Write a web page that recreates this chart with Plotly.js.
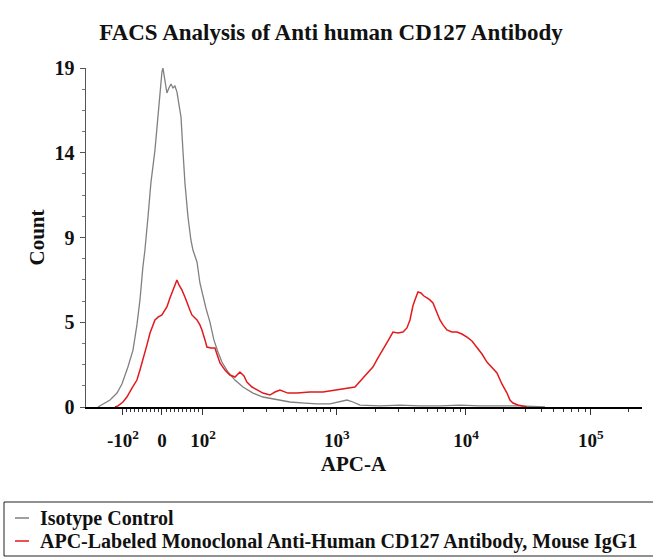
<!DOCTYPE html>
<html>
<head>
<meta charset="utf-8">
<script src="https://cdn.plot.ly/plotly-3.0.1.min.js"></script>
<style>html,body{margin:0;padding:0;background:#fff;}#chart{width:653px;height:558px;}</style>
</head>
<body>
<div id="chart"></div>
<script>
// x values are in biexponential display units of APC-A (0 = zero, ~1 unit per decade above 10^3)
const isoX = [-0.504,-0.465,-0.409,-0.354,-0.315,-0.268,-0.228,-0.197,-0.173,-0.150,-0.134,-0.110,-0.087,-0.055,-0.031,-0.016,-0.008,0,0.008,0.016,0.024,0.039,0.055,0.071,0.087,0.102,0.118,0.134,0.150,0.165,0.181,0.205,0.228,0.244,0.276,0.299,0.323,0.346,0.378,0.409,0.441,0.472,0.520,0.575,0.638,0.717,0.795,0.890,1.008,1.126,1.220,1.323,1.402,1.457,1.504,1.559,1.717,1.874,2.031,2.189,2.346,2.504,2.661,2.819,3.016];
const isoY = [0,0.17,0.39,0.78,1.29,2.24,3.19,4.60,6.00,7.85,8.80,10.65,12.56,14.40,16.25,17.49,18.33,18.78,19.0,18.61,18.05,17.60,17.88,18.10,17.88,17.99,17.66,16.93,16.25,14.40,12.56,10.65,9.36,8.80,8.13,6.95,6.17,5.55,4.76,3.76,3.08,2.52,1.96,1.51,1.12,0.78,0.56,0.45,0.28,0.22,0.17,0.17,0.28,0.39,0.28,0.11,0.06,0.11,0.06,0.06,0.11,0.06,0.06,0.06,0];
const cd127X = [-0.370,-0.346,-0.307,-0.276,-0.236,-0.197,-0.173,-0.150,-0.118,-0.094,-0.071,-0.055,-0.031,0,0.024,0.039,0.063,0.079,0.102,0.118,0.134,0.157,0.181,0.197,0.220,0.236,0.260,0.276,0.299,0.315,0.339,0.354,0.386,0.417,0.441,0.457,0.496,0.535,0.575,0.614,0.646,0.669,0.709,0.748,0.795,0.850,0.890,0.929,0.992,1.063,1.165,1.268,1.362,1.457,1.520,1.583,1.622,1.661,1.701,1.740,1.780,1.819,1.858,1.898,1.929,1.953,1.976,1.992,2.016,2.039,2.063,2.087,2.110,2.134,2.165,2.189,2.213,2.244,2.283,2.323,2.362,2.402,2.441,2.480,2.520,2.559,2.598,2.638,2.677,2.717,2.740,2.764,2.803,2.835,2.874];
const cd127Y = [0,0.06,0.28,0.56,1.06,1.51,2.07,2.63,3.48,4.15,4.60,4.88,5.04,5.16,5.44,5.61,6.11,6.39,6.78,7.12,6.84,6.56,6.17,5.83,5.44,5.16,4.99,4.88,4.60,4.32,3.76,3.36,3.31,3.31,2.80,2.47,2.07,1.79,1.68,1.96,1.74,1.40,1.12,0.95,0.78,0.67,0.84,0.95,0.78,0.78,0.84,0.84,0.95,1.06,1.12,1.63,1.91,2.24,2.75,3.19,3.70,4.20,4.15,4.20,4.43,4.88,5.66,6.00,6.45,6.39,6.22,6.11,6.00,5.83,5.27,4.88,4.60,4.32,4.20,4.20,4.09,3.92,3.70,3.36,2.97,2.52,2.24,1.91,1.29,0.78,0.39,0.22,0.11,0.06,0];

const xTickPos = [-0.307, 0, 0.323, 1.378, 2.394, 3.378];
const xTickText = ['-10<sup>2</sup>', '0', '10<sup>2</sup>', '10<sup>3</sup>', '10<sup>4</sup>', '10<sup>5</sup>'];
const yTickPos = [0, 4.75, 9.5, 14.25, 19];
const yTickText = ['0', '5', '9', '14', '19'];
const seriesNames = ['Isotype Control', 'APC-Labeled Monoclonal Anti-Human CD127 Antibody, Mouse IgG1'];
const seriesColors = ['#808080', '#e3191c'];

// minor tick positions derived from the major tick positions
const minorX = [];
for (let k = -9; k <= 9; k++) { if (k !== 0) minorX.push(k > 0 ? k / 10 * xTickPos[2] : -k / 10 * xTickPos[0]); }
for (let d = 2; d < 5; d++) {
  const a = xTickPos[d], b = xTickPos[d + 1];
  for (let m = 2; m <= 9; m++) minorX.push(a + Math.log10(m) * (b - a));
}
for (let m = 2; m <= 3; m++) minorX.push(xTickPos[5] + Math.log10(m) * (xTickPos[5] - xTickPos[4]));
const minorY = [];
for (let i = 0; i < yTickPos.length - 1; i++) {
  for (let j = 1; j < 4; j++) minorY.push(yTickPos[i] + j * (yTickPos[i + 1] - yTickPos[i]) / 4);
}

const W = 653, H = 558, M = {l: 86, r: 11, t: 68, b: 151};
const plotW = W - M.l - M.r, plotH = H - M.t - M.b;
const px2paperX = p => (p - M.l) / plotW;
const py2paperY = p => (H - M.b - p) / plotH;

const serif = 'Liberation Serif, Times New Roman, serif';
const traces = seriesNames.map((n, i) => ({
  x: i === 0 ? isoX : cd127X, y: i === 0 ? isoY : cd127Y, name: n, type: 'scatter', mode: 'lines',
  line: {color: seriesColors[i], width: i === 0 ? 1.3 : 1.5}, showlegend: false
}));

// legend box drawn as shapes + annotations (mimics the original boxed key)
const legendRows = [518, 541];
const shapes = [{type: 'rect', xref: 'paper', yref: 'paper', x0: px2paperX(4), x1: px2paperX(670),
                 y0: py2paperY(502), y1: py2paperY(556), line: {color: '#222', width: 1}, fillcolor: 'rgba(0,0,0,0)'}];
const annotations = [];
seriesNames.forEach((n, i) => {
  shapes.push({type: 'line', xref: 'paper', yref: 'paper', x0: px2paperX(15), x1: px2paperX(29),
               y0: py2paperY(legendRows[i]), y1: py2paperY(legendRows[i]), line: {color: seriesColors[i], width: 1.5}});
  annotations.push({text: n, xref: 'paper', yref: 'paper', x: px2paperX(38), y: py2paperY(legendRows[i]),
                    xanchor: 'left', yanchor: 'middle', showarrow: false,
                    font: {family: serif, size: 20, color: '#111', weight: 'bold'}});
});

const layout = {
  width: W, height: H,
  margin: M,
  paper_bgcolor: '#fff', plot_bgcolor: '#fff',
  title: {text: 'FACS Analysis of Anti human CD127 Antibody', x: 0.507, xref: 'container', xanchor: 'center',
          y: 0.943, yref: 'container', yanchor: 'middle',
          font: {family: serif, size: 23, color: '#111', weight: 'bold'}},
  xaxis: {range: [-0.598, 3.78], automargin: false, showgrid: false, zeroline: false, showline: true, linecolor: '#000', linewidth: 1.5,
          tickmode: 'array', tickvals: xTickPos, ticktext: xTickText, ticks: 'outside', ticklen: 6, tickcolor: '#333',
          ticklabelstandoff: 10,
          minor: {tickmode: 'array', tickvals: minorX, ticks: 'outside', ticklen: 3, tickcolor: '#334', showgrid: false},
          tickfont: {family: serif, size: 19, color: '#111', weight: 'bold'},
          title: {text: 'APC-A&nbsp;&nbsp;&nbsp;&nbsp;', standoff: 6, font: {family: serif, size: 21, color: '#111', weight: 'bold'}}},
  yaxis: {range: [0, 19], automargin: false, showgrid: false, zeroline: false, showline: true, linecolor: '#555', linewidth: 1.5,
          tickmode: 'array', tickvals: yTickPos, ticktext: yTickText, ticks: 'outside', ticklen: 5, tickcolor: '#555',
          ticklabelstandoff: 1,
          minor: {tickmode: 'array', tickvals: minorY, ticks: 'outside', ticklen: 3, tickcolor: '#777', showgrid: false},
          tickfont: {family: serif, size: 20, color: '#111', weight: 'bold'},
          title: {text: 'Count', standoff: 4, font: {family: serif, size: 21, color: '#111', weight: 'bold'}}},
  showlegend: false,
  shapes: shapes,
  annotations: annotations
};
Plotly.newPlot('chart', traces, layout, {displayModeBar: false, staticPlot: true});
</script>
</body>
</html>
